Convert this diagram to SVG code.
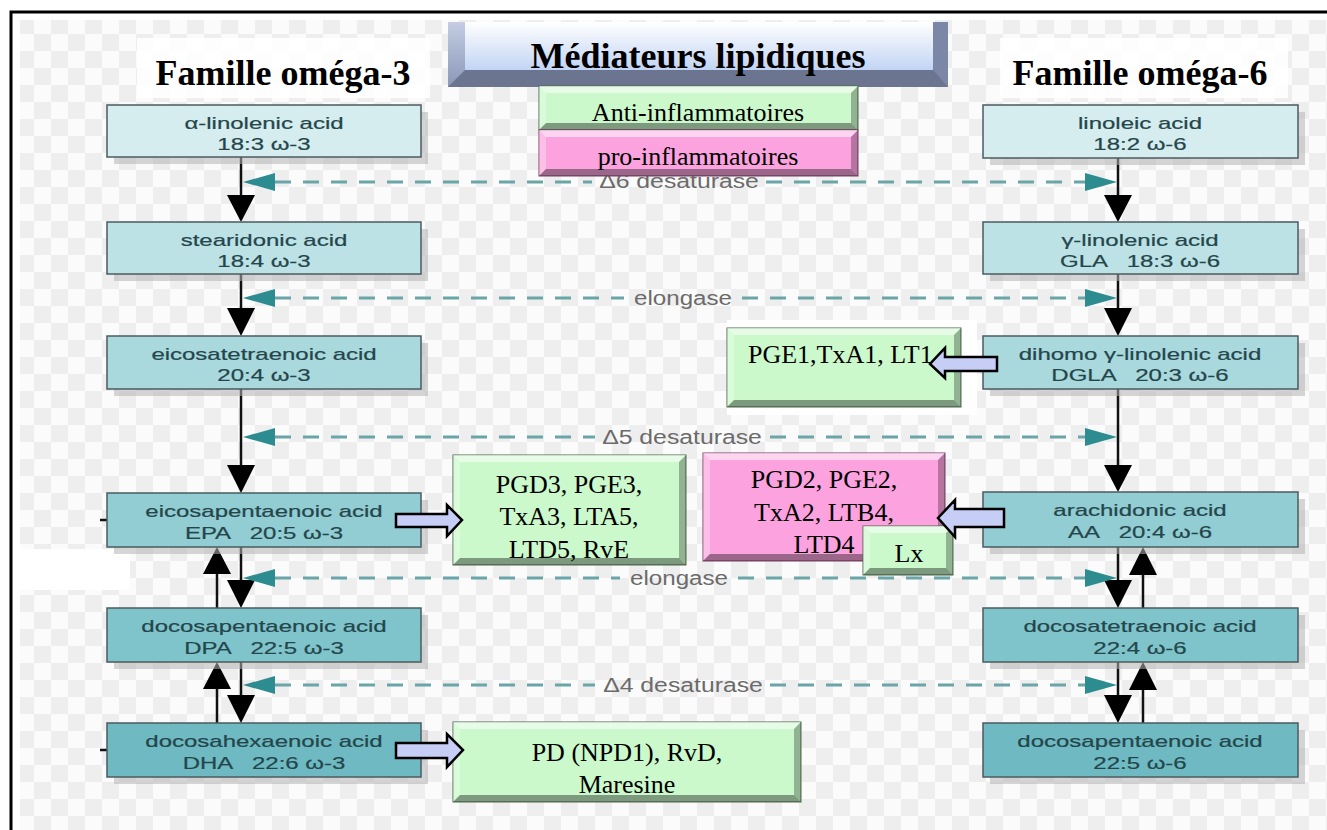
<svg xmlns="http://www.w3.org/2000/svg" width="1327" height="830" viewBox="0 0 1327 830">
<defs>
<pattern id="chk" width="34" height="34" patternUnits="userSpaceOnUse">
<rect width="34" height="34" fill="#fbfbfb"/>
<rect width="17" height="17" fill="#eeeeee"/>
<rect x="17" y="17" width="17" height="17" fill="#eeeeee"/>
</pattern>
<linearGradient id="face" x1="0" y1="0" x2="0" y2="1">
<stop offset="0" stop-color="#ffffff"/>
<stop offset="1" stop-color="#c2d4f4"/>
</linearGradient>
<linearGradient id="lbev" x1="0" y1="0" x2="0" y2="1">
<stop offset="0" stop-color="#c4cde2"/>
<stop offset="1" stop-color="#8a97b8"/>
</linearGradient>
<style>
.acid{stroke:#4b5b5f;stroke-width:1.5}
.sh{fill:#b5b5b5;opacity:.55}
.at{font-family:"Liberation Sans",Arial,sans-serif;font-size:16px;fill:#24464b;stroke:#24464b;stroke-width:0.2;text-anchor:middle;white-space:pre}
.ft{font-family:"Liberation Serif","Times New Roman",serif;font-size:26px;fill:#000;text-anchor:middle}
.hd{font-family:"Liberation Serif","Times New Roman",serif;font-weight:bold;font-size:36px;fill:#000;text-anchor:middle}
.vl{stroke:#111;stroke-width:2.5}
.vh{fill:#000}
.dl{stroke:#6aa5a7;stroke-width:3;stroke-dasharray:16 12;fill:none}
.dt{fill:#2d8c90}
.el{font-family:"Liberation Sans",Arial,sans-serif;font-size:21px;fill:#6b6b6b;text-anchor:middle}
.ba{fill:#c7cef6;stroke:#000;stroke-width:2.5;stroke-linejoin:miter}
.g{fill:#cbf9cb;stroke:#4d6b4d;stroke-width:1}
.p{fill:#fca3df;stroke:#7a3f66;stroke-width:1}
.bt{fill:#fff;opacity:.55}
.bl{fill:#fff;opacity:.3}
.br{fill:#000;opacity:.28}
.bb{fill:#000;opacity:.38}
</style>
</defs>

<rect width="1327" height="830" fill="#fff"/>
<rect x="20" y="20" width="1307" height="810" fill="url(#chk)"/>
<path d="M11,830 V12 H1327" fill="none" stroke="#000" stroke-width="3"/>
<rect x="137" y="38" width="293" height="60" fill="#fff" opacity=".85"/>
<rect x="1000" y="38" width="288" height="60" fill="#fff" opacity=".85"/>
<rect x="20" y="549" width="110" height="41" fill="#fff"/>
<rect x="727" y="320" width="250" height="95" fill="#fff"/>

<text class="hd" x="283" y="85">Famille oméga-3</text>
<text class="hd" x="1140" y="85">Famille oméga-6</text>

<!-- pathway connectors -->
<g id="connectors-pathway">
<line class="vl" x1="241" y1="157" x2="241" y2="200"/><polygon class="vh" points="227,195 255,195 241,222"/>
<line class="vl" x1="241" y1="274" x2="241" y2="312"/><polygon class="vh" points="227,308 255,308 241,336"/>
<line class="vl" x1="241" y1="389" x2="241" y2="470"/><polygon class="vh" points="227,465 255,465 241,493"/>
<line class="vl" x1="241" y1="547" x2="241" y2="585"/><polygon class="vh" points="227,580 255,580 241,608"/>
<line class="vl" x1="217" y1="608" x2="217" y2="570"/><polygon class="vh" points="203,574 231,574 217,547"/>
<line class="vl" x1="241" y1="662" x2="241" y2="700"/><polygon class="vh" points="227,695 255,695 241,723"/>
<line class="vl" x1="217" y1="723" x2="217" y2="685"/><polygon class="vh" points="203,689 231,689 217,662"/>
<line class="vl" x1="100" y1="520" x2="107" y2="520"/>
<line class="vl" x1="100" y1="750" x2="107" y2="750"/>

<line class="vl" x1="1118" y1="158" x2="1118" y2="200"/><polygon class="vh" points="1104,195 1132,195 1118,222"/>
<line class="vl" x1="1118" y1="274" x2="1118" y2="312"/><polygon class="vh" points="1104,308 1132,308 1118,336"/>
<line class="vl" x1="1118" y1="389" x2="1118" y2="470"/><polygon class="vh" points="1104,465 1132,465 1118,492"/>
<line class="vl" x1="1118" y1="547" x2="1118" y2="585"/><polygon class="vh" points="1104,580 1132,580 1118,608"/>
<line class="vl" x1="1143" y1="608" x2="1143" y2="570"/><polygon class="vh" points="1129,575 1157,575 1143,547"/>
<line class="vl" x1="1118" y1="662" x2="1118" y2="700"/><polygon class="vh" points="1104,695 1132,695 1118,723"/>
<line class="vl" x1="1143" y1="723" x2="1143" y2="685"/><polygon class="vh" points="1129,690 1157,690 1143,662"/>

<path class="dl" d="M275,182 H592 M766,182 H1085"/>
<polygon class="dt" points="243,182 275,173 275,191"/><polygon class="dt" points="1117,182 1085,173 1085,191"/>
<text class="el" transform="translate(679,188) scale(1.18,1)">Δ6 desaturase</text>

<path class="dl" d="M275,298 H624 M742,298 H1085"/>
<polygon class="dt" points="243,298 275,289 275,307"/><polygon class="dt" points="1117,298 1085,289 1085,307"/>
<text class="el" transform="translate(683,305) scale(1.15,1)">elongase</text>

<path class="dl" d="M275,437 H595 M770,437 H1085"/>
<polygon class="dt" points="243,437 275,428 275,446"/><polygon class="dt" points="1117,437 1085,428 1085,446"/>
<text class="el" transform="translate(682,444) scale(1.18,1)">Δ5 desaturase</text>

<path class="dl" d="M275,578 H620 M738,578 H1085"/>
<polygon class="dt" points="243,578 275,569 275,587"/><polygon class="dt" points="1117,578 1085,569 1085,587"/>
<text class="el" transform="translate(679,585) scale(1.15,1)">elongase</text>

<path class="dl" d="M275,685 H595 M770,685 H1085"/>
<polygon class="dt" points="243,685 275,676 275,694"/><polygon class="dt" points="1117,685 1085,676 1085,694"/>
<text class="el" transform="translate(683,692) scale(1.18,1)">Δ4 desaturase</text>
</g>

<!-- omega-3 nodes -->
<g id="ala"><rect class="sh" x="114" y="112" width="314" height="52"/><rect class="acid" x="107" y="105" width="314" height="52" fill="#d5edef"/>
<text class="at" transform="translate(264,129) scale(1.5,1)">α-linolenic acid</text><text class="at" transform="translate(264,150) scale(1.5,1)">18:3 ω-3</text></g>
<g id="sda"><rect class="sh" x="114" y="229" width="314" height="52"/><rect class="acid" x="107" y="222" width="314" height="52" fill="#bde2e6"/>
<text class="at" transform="translate(264,246) scale(1.5,1)">stearidonic acid</text><text class="at" transform="translate(264,267) scale(1.5,1)">18:4 ω-3</text></g>
<g id="eta"><rect class="sh" x="114" y="343" width="314" height="53"/><rect class="acid" x="107" y="336" width="314" height="53" fill="#a9d8dd"/>
<text class="at" transform="translate(264,360) scale(1.5,1)">eicosatetraenoic acid</text><text class="at" transform="translate(264,381) scale(1.5,1)">20:4 ω-3</text></g>
<g id="epa"><rect class="sh" x="114" y="500" width="314" height="54"/><rect class="acid" x="107" y="493" width="314" height="54" fill="#92cdd3"/>
<text class="at" transform="translate(264,517) scale(1.5,1)">eicosapentaenoic acid</text><text class="at" transform="translate(264,539) scale(1.5,1)">EPA   20:5 ω-3</text></g>
<g id="dpa3"><rect class="sh" x="114" y="615" width="314" height="54"/><rect class="acid" x="107" y="608" width="314" height="54" fill="#80c4cb"/>
<text class="at" transform="translate(264,632) scale(1.5,1)">docosapentaenoic acid</text><text class="at" transform="translate(264,654) scale(1.5,1)">DPA   22:5 ω-3</text></g>
<g id="dha"><rect class="sh" x="114" y="730" width="314" height="54"/><rect class="acid" x="107" y="723" width="314" height="54" fill="#6fbac2"/>
<text class="at" transform="translate(264,747) scale(1.5,1)">docosahexaenoic acid</text><text class="at" transform="translate(264,769) scale(1.5,1)">DHA   22:6 ω-3</text></g>

<!-- omega-6 nodes -->
<g id="la"><rect class="sh" x="990" y="112" width="315" height="53"/><rect class="acid" x="983" y="105" width="315" height="53" fill="#d5edef"/>
<text class="at" transform="translate(1140,129) scale(1.5,1)">linoleic acid</text><text class="at" transform="translate(1140,150) scale(1.5,1)">18:2 ω-6</text></g>
<g id="gla"><rect class="sh" x="990" y="229" width="315" height="52"/><rect class="acid" x="983" y="222" width="315" height="52" fill="#bde2e6"/>
<text class="at" transform="translate(1140,246) scale(1.5,1)">γ-linolenic acid</text><text class="at" transform="translate(1140,267) scale(1.5,1)">GLA   18:3 ω-6</text></g>
<g id="dgla"><rect class="sh" x="990" y="343" width="315" height="53"/><rect class="acid" x="983" y="336" width="315" height="53" fill="#a9d8dd"/>
<text class="at" transform="translate(1140,360) scale(1.5,1)">dihomo γ-linolenic acid</text><text class="at" transform="translate(1140,381) scale(1.5,1)">DGLA   20:3 ω-6</text></g>
<g id="aa"><rect class="sh" x="990" y="499" width="315" height="55"/><rect class="acid" x="983" y="492" width="315" height="55" fill="#92cdd3"/>
<text class="at" transform="translate(1140,516) scale(1.5,1)">arachidonic acid</text><text class="at" transform="translate(1140,538) scale(1.5,1)">AA   20:4 ω-6</text></g>
<g id="dta"><rect class="sh" x="990" y="615" width="315" height="54"/><rect class="acid" x="983" y="608" width="315" height="54" fill="#80c4cb"/>
<text class="at" transform="translate(1140,632) scale(1.5,1)">docosatetraenoic acid</text><text class="at" transform="translate(1140,654) scale(1.5,1)">22:4 ω-6</text></g>
<g id="dpa6"><rect class="sh" x="990" y="730" width="315" height="54"/><rect class="acid" x="983" y="723" width="315" height="54" fill="#6fbac2"/>
<text class="at" transform="translate(1140,747) scale(1.5,1)">docosapentaenoic acid</text><text class="at" transform="translate(1140,769) scale(1.5,1)">22:5 ω-6</text></g>

<!-- title banner -->
<g id="title">
<rect x="448" y="22" width="500" height="65" fill="#6b7590"/>
<polygon points="448,22 465,22 465,70 448,87" fill="url(#lbev)"/>
<polygon points="933,22 948,22 948,87 933,70" fill="#7c86a6"/>
<rect x="465" y="22" width="468" height="48" fill="url(#face)"/>
<text class="hd" x="698" y="68">Médiateurs lipidiques</text>
</g>

<!-- legend boxes -->
<g id="legend-anti">
<rect class="g" x="539" y="86" width="319" height="44"/>
<polygon class="bt" points="539,86 858,86 851,93 546,93"/><polygon class="bl" points="539,86 546,93 546,123 539,130"/>
<polygon class="br" points="858,86 858,130 851,123 851,93"/><polygon class="bb" points="539,130 858,130 851,123 546,123"/>
<text class="ft" x="698" y="121">Anti-inflammatoires</text>
</g>
<g id="legend-pro">
<rect class="p" x="539" y="130" width="319" height="46"/>
<polygon class="bt" points="539,130 858,130 851,137 546,137"/><polygon class="bl" points="539,130 546,137 546,169 539,176"/>
<polygon class="br" points="858,130 858,176 851,169 851,137"/><polygon class="bb" points="539,176 858,176 851,169 546,169"/>
<text class="ft" x="698" y="165">pro-inflammatoires</text>
</g>

<!-- mediator boxes -->
<g id="med-dgla">
<rect class="g" x="727" y="328" width="234" height="79"/>
<polygon class="bt" points="727,328 961,328 954,335 734,335"/><polygon class="bl" points="727,328 734,335 734,400 727,407"/>
<polygon class="br" points="961,328 961,407 954,400 954,335"/><polygon class="bb" points="727,407 961,407 954,400 734,400"/>
<text class="ft" x="748" y="363" style="text-anchor:start">PGE1,TxA1, LT1</text>
</g>
<g id="med-epa">
<rect class="g" x="453" y="455" width="233" height="110"/>
<polygon class="bt" points="453,455 686,455 679,462 460,462"/><polygon class="bl" points="453,455 460,462 460,558 453,565"/>
<polygon class="br" points="686,455 686,565 679,558 679,462"/><polygon class="bb" points="453,565 686,565 679,558 460,558"/>
<text class="ft" x="569" y="493">PGD3, PGE3,</text>
<text class="ft" x="569" y="525">TxA3, LTA5,</text>
<text class="ft" x="569" y="558">LTD5, RvE</text>
</g>
<g id="med-aa">
<rect class="p" x="703" y="453" width="242" height="108"/>
<polygon class="bt" points="703,453 945,453 938,460 710,460"/><polygon class="bl" points="703,453 710,460 710,554 703,561"/>
<polygon class="br" points="945,453 945,561 938,554 938,460"/><polygon class="bb" points="703,561 945,561 938,554 710,554"/>
<text class="ft" x="824" y="488">PGD2, PGE2,</text>
<text class="ft" x="824" y="521">TxA2, LTB4,</text>
<text class="ft" x="824" y="553">LTD4</text>
</g>
<g id="med-lx">
<rect class="g" x="863" y="526" width="90" height="49"/>
<polygon class="bt" points="863,526 953,526 946,533 870,533"/><polygon class="bl" points="863,526 870,533 870,568 863,575"/>
<polygon class="br" points="953,526 953,575 946,568 946,533"/><polygon class="bb" points="863,575 953,575 946,568 870,568"/>
<text class="ft" x="909" y="562">Lx</text>
</g>
<g id="med-dha">
<rect class="g" x="453" y="722" width="348" height="80"/>
<polygon class="bt" points="453,722 801,722 794,729 460,729"/><polygon class="bl" points="453,722 460,729 460,795 453,802"/>
<polygon class="br" points="801,722 801,802 794,795 794,729"/><polygon class="bb" points="453,802 801,802 794,795 460,795"/>
<text class="ft" x="627" y="761">PD (NPD1), RvD,</text>
<text class="ft" x="627" y="793">Maresine</text>
</g>

<!-- mediator block arrows -->
<g id="connectors-mediators">
<polygon class="ba" points="396,514 447,514 447,505 462,520 447,536 447,527 396,527"/>
<polygon class="ba" points="396,743 447,743 447,734 463,750 447,767 447,758 396,758"/>
<polygon class="ba" points="997,357 945,357 945,348 930,364 945,378 945,371 997,371"/>
<polygon class="ba" points="1004,509 955,509 955,500 938,518 955,537 955,527 1004,527"/>
</g>
</svg>
